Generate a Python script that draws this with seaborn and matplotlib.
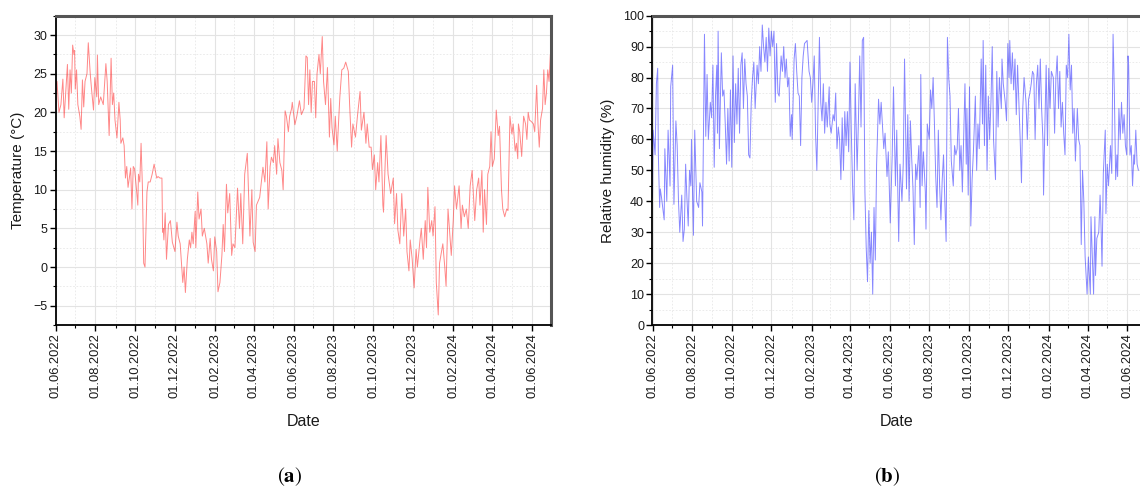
import numpy as np
import pandas as pd
import matplotlib
matplotlib.use("Agg")
import matplotlib.pyplot as plt
import matplotlib.dates as mdates
from matplotlib.ticker import MultipleLocator
import seaborn as sns

# ---------------- data ----------------
start_date = "2022-06-01"

temp_day = [0, 2, 5, 8, 11, 13, 15, 18, 20, 22, 24, 26, 28, 29, 30, 32, 34, 37, 39, 41, 43, 45, 48, 50,
            53, 55, 58, 60, 63, 64, 66, 69, 73, 77, 79, 82, 85, 87, 89, 91, 94, 97, 99, 100, 103, 105,
            107, 109, 111, 115, 117, 119, 121, 124, 126, 127, 129, 131, 133, 135, 137, 140, 142, 145,
            148, 151, 155, 157, 160, 163, 164, 165, 166, 168, 170, 173, 176, 178, 179, 183, 186, 188,
            191, 195, 197, 199, 202, 205, 207, 209, 211, 214, 215, 218, 220, 223, 225, 228, 232, 234,
            237, 239, 242, 244, 247, 249, 252, 255, 257, 259, 262, 264, 267, 270, 272, 275, 279, 282,
            284, 287, 290, 294, 298, 301, 303, 306, 308, 313, 318, 321, 324, 326, 329, 331, 334, 336,
            339, 341, 344, 347, 349, 352, 354, 357, 359, 362, 363, 367, 370, 374, 377, 381, 384, 386,
            388, 390, 392, 394, 397, 399, 401, 404, 406, 409, 411, 414, 417, 420, 422, 424, 427, 429,
            432, 433, 436, 439, 442, 445, 449, 451, 454, 456, 460, 463, 467, 469, 473, 476, 478, 481,
            484, 486, 489, 491, 494, 496, 499, 502, 503, 507, 510, 514, 518, 520, 523, 525, 528, 531,
            534, 537, 539, 542, 544, 547, 550, 553, 555, 559, 561, 564, 567, 569, 571, 574, 577, 579,
            582, 584, 587, 589, 592, 594, 597, 599, 602, 605, 607, 610, 612, 615, 619, 622, 624, 627,
            630, 633, 636, 639, 643, 646, 649, 651, 654, 656, 658, 661, 663, 666, 668, 670, 673, 676,
            679, 681, 684, 686, 689, 692, 694, 697, 700, 702, 705, 707, 709, 710, 712, 715, 718, 721,
            723, 725, 727, 730, 733, 735, 738, 740, 742, 744, 747, 749, 751, 753, 755, 757, 759]
temp_c = [23.5, 24, 20, 21, 24.3, 19.3, 22, 26.2, 20.4, 25.5, 22.5, 28.7, 27.5, 28, 23, 25.5, 21, 19.5,
          17.8, 24.2, 20.7, 24, 25, 29, 25, 23, 20.3, 24.5, 22, 27.4, 21, 22, 21, 26.3, 24, 17, 27, 21,
          22.5, 19, 16.7, 21.3, 19, 16, 16.7, 15.7, 11.5, 13, 10.3, 12.8, 7.5, 13, 12.7, 10, 8, 12, 11,
          16, 10.5, 0.5, 0, 9.7, 11, 11, 12, 13.3, 11.5, 11.7, 11.5, 11.5, 4.5, 5, 3.5, 7, 1, 5.5, 6,
          4.2, 3.2, 2, 5.8, 4, 3, -2, 0, -3.3, 1, 3.5, 2.5, 4.5, 3, 7.2, 2.5, 9.7, 6.2, 7.5, 4, 5, 3,
          0.5, 3.7, 1, -0.5, 3.9, 2, -3.2, -2, 1.5, 5.5, 2, 10.7, 7, 9.5, 1.5, 3, 2.5, 10.2, 5, 9.5, 3,
          12, 14.7, 4, 10, 3.2, 2, 8, 9, 12.9, 11, 16.2, 7.5, 13, 14.2, 13.5, 15.7, 12, 16.6, 13.5,
          12.5, 10, 20.2, 19.5, 17.5, 19.5, 20.5, 21.3, 18.4, 19.5, 21.5, 19.7, 20.5, 27.3, 27.1, 21,
          25.5, 20, 24, 24, 19.3, 25, 27.5, 25, 29.8, 24, 21, 25.8, 16.8, 21.8, 18, 15.8, 19.5, 15, 17,
          22, 25.5, 25.7, 26.5, 25.3, 21, 15.5, 18.5, 16.8, 19.5, 22.7, 17.7, 20, 16, 18.5, 15.5, 15.5,
          12.6, 14.5, 10, 13.5, 11, 17, 8, 7.1, 17, 12, 9.5, 11.5, 5.6, 9.5, 4.8, 3, 9.5, 4, 7.5, 2,
          -0.5, 3.5, 1, -2.7, 2.3, 0, 3.5, 5, 1, 6, 2.5, 10.3, 4.5, 6, 4, 7.8, -2, -6.2, 0.5, 2, 3, 0,
          -2.5, 7.5, 4, 1.5, 6, 10.5, 7.5, 10.5, 5, 8, 6.5, 7.5, 5, 10.5, 12.5, 6, 10, 11.5, 8, 12.5,
          4.5, 10, 5.5, 12, 13, 17.5, 13, 14, 20.3, 17, 18.2, 10, 7.5, 6.5, 7.5, 7.3, 19.5, 17.2, 18.5,
          15, 16, 14, 18.5, 17.5, 14.3, 19.5, 18.5, 16.5, 20, 19, 18.8, 18.5, 17.5, 23.5, 18.5, 15.5,
          19, 20.5, 25.5, 21, 22.5, 25.5, 24, 27.5]

hum_day = [0, 1, 4, 6, 8, 9, 11, 12, 14, 18, 19, 22, 24, 27, 28, 31, 33, 36, 38, 40, 42, 45, 47, 49,
           51, 53, 55, 57, 59, 60, 63, 65, 68, 71, 73, 76, 77, 80, 82, 84, 86, 89, 91, 93, 95, 97, 99,
           100, 101, 103, 106, 108, 110, 112, 114, 116, 118, 120, 122, 124, 126, 128, 130, 132, 134,
           136, 138, 140, 142, 144, 146, 148, 150, 152, 154, 156, 158, 161, 163, 165, 167, 169, 171,
           173, 175, 177, 179, 181, 183, 185, 187, 189, 191, 193, 195, 198, 200, 202, 204, 206, 208,
           210, 212, 214, 215, 218, 220, 222, 224, 226, 228, 230, 232, 234, 238, 241, 243, 245, 247,
           249, 251, 253, 255, 257, 259, 261, 263, 265, 267, 269, 272, 273, 275, 278, 280, 282, 284,
           286, 288, 290, 292, 294, 296, 298, 300, 302, 304, 306, 308, 310, 312, 315, 317, 319, 321,
           323, 325, 327, 329, 331, 333, 335, 337, 339, 341, 343, 345, 348, 350, 352, 356, 358, 361,
           363, 366, 369, 371, 374, 376, 379, 381, 384, 386, 388, 391, 393, 395, 397, 399, 401, 403,
           405, 407, 410, 412, 413, 415, 417, 420, 421, 423, 426, 428, 430, 432, 434, 436, 438, 440,
           442, 444, 446, 448, 450, 452, 454, 456, 458, 460, 463, 465, 467, 469, 471, 473, 475, 477,
           479, 481, 483, 484, 486, 488, 490, 492, 494, 497, 499, 501, 503, 506, 508, 509, 511, 513,
           515, 517, 519, 521, 523, 525, 528, 530, 532, 534, 537, 538, 540, 543, 545, 547, 549, 550,
           552, 554, 556, 558, 560, 562, 564, 566, 568, 570, 572, 575, 577, 579, 581, 583, 585, 587,
           589, 591, 593, 595, 597, 599, 601, 602, 604, 606, 608, 610, 612, 614, 617, 619, 621, 623,
           625, 627, 629, 631, 633, 635, 637, 639, 641, 643, 645, 647, 649, 651, 654, 656, 658, 660,
           662, 664, 666, 669, 671, 674, 675, 677, 679, 681, 682, 684, 687, 689, 690, 692, 694, 697,
           698, 700, 702, 705, 707, 709, 711, 713, 715, 716, 718, 720, 722, 724, 726, 728, 730, 732,
           733, 735, 737, 739, 741, 742, 744, 746, 748]
hum_pct = [41, 63, 55, 78, 83, 55, 38, 44, 41, 34, 57, 40, 63, 45, 77, 84, 39, 66, 58, 40, 30, 42, 27,
           31, 52, 41, 32, 50, 45, 60, 29, 63, 40, 38, 46, 43, 32, 94, 61, 81, 60, 72, 67, 84, 51, 74,
           84, 62, 95, 57, 88, 74, 76, 65, 52, 70, 53, 76, 51, 87, 59, 78, 65, 83, 62, 84, 88, 70, 86,
           78, 74, 55, 54, 72, 80, 85, 70, 84, 78, 90, 82, 97, 90, 85, 93, 82, 96, 87, 95, 90, 95, 72,
           91, 75, 74, 87, 82, 90, 80, 86, 77, 80, 61, 68, 60, 86, 91, 82, 75, 74, 58, 80, 87, 91, 92,
           82, 80, 72, 78, 87, 62, 50, 72, 93, 72, 66, 78, 62, 72, 64, 77, 65, 62, 68, 66, 75, 57, 64,
           60, 47, 67, 50, 69, 58, 69, 56, 85, 63, 45, 34, 78, 50, 66, 87, 64, 92, 93, 43, 25, 14, 37,
           20, 30, 10, 38, 21, 52, 73, 65, 72, 57, 62, 48, 56, 33, 55, 77, 45, 63, 27, 52, 40, 52, 86,
           44, 68, 40, 66, 54, 44, 26, 52, 47, 58, 38, 81, 45, 56, 43, 31, 65, 60, 76, 70, 80, 65, 48,
           38, 63, 45, 34, 47, 55, 40, 27, 93, 80, 74, 53, 45, 58, 55, 57, 70, 50, 58, 43, 60, 78, 52,
           70, 42, 77, 32, 47, 56, 74, 50, 65, 57, 86, 65, 92, 58, 84, 50, 74, 60, 72, 90, 60, 47, 82,
           64, 80, 70, 86, 78, 72, 66, 91, 80, 92, 78, 88, 76, 86, 68, 84, 72, 60, 46, 70, 80, 72, 60,
           73, 75, 78, 82, 81, 60, 78, 84, 70, 86, 70, 60, 42, 64, 84, 58, 83, 70, 82, 80, 62, 80, 87,
           70, 82, 64, 72, 62, 55, 84, 80, 94, 76, 84, 62, 70, 53, 70, 60, 58, 26, 50, 40, 22, 10, 22,
           10, 35, 22, 10, 35, 16, 28, 30, 42, 36, 19, 49, 63, 36, 52, 45, 58, 49, 94, 75, 47, 55, 48,
           70, 60, 72, 62, 68, 58, 55, 87, 84, 55, 58, 45, 55, 52, 63, 52, 50]

temp_xlim = ("2022-06-01", "2024-06-30")
hum_xlim = ("2022-06-01", "2024-06-22")

# ---------------- build frames ----------------
t0 = pd.Timestamp(start_date)
temp_df = pd.DataFrame({"Date": t0 + pd.to_timedelta(temp_day, unit="D"), "value": temp_c})
hum_df = pd.DataFrame({"Date": t0 + pd.to_timedelta(hum_day, unit="D"), "value": hum_pct})

sns.set_theme(style="white")
plt.rcParams["font.family"] = ["Liberation Sans", "DejaVu Sans"]
plt.rcParams["mathtext.fontset"] = "stix"

W, H = 1140, 491
fig = plt.figure(figsize=(W / 100, H / 100), dpi=100)

def px_axes(x0, x1, y0, y1):
    return fig.add_axes([x0 / W, 1 - y1 / H, (x1 - x0) / W, (y1 - y0) / H])

ax1 = px_axes(55.7, 551, 15.7, 325)
ax2 = px_axes(652.5, 1141, 15.7, 325)

sns.lineplot(data=temp_df, x="Date", y="value", ax=ax1, color=(1.0, 0.15, 0.15),
             lw=0.7, alpha=0.55, estimator=None, errorbar=None)
sns.lineplot(data=hum_df, x="Date", y="value", ax=ax2, color=(0.15, 0.15, 1.0),
             lw=0.7, alpha=0.55, estimator=None, errorbar=None)

def style(ax, xlim, ylim, ymaj, ymin, ylabel, ylab_x, show_right=True):
    ax.set_xlim(pd.Timestamp(xlim[0]), pd.Timestamp(xlim[1]))
    ax.set_ylim(*ylim)
    ax.xaxis.set_major_locator(mdates.MonthLocator(bymonth=[2, 4, 6, 8, 10, 12]))
    ax.xaxis.set_minor_locator(mdates.MonthLocator())
    ax.xaxis.set_major_formatter(mdates.DateFormatter("%d.%m.%Y"))
    ax.yaxis.set_major_locator(MultipleLocator(ymaj))
    ax.yaxis.set_minor_locator(MultipleLocator(ymin))
    ax.grid(True, which="major", color="#e3e3e3", lw=0.8, ls="-")
    ax.grid(True, which="minor", color="#e8e8e8", lw=0.6, ls=(0, (2, 2)))
    ax.set_axisbelow(True)
    ax.tick_params(axis="both", which="major", direction="out", length=4, width=1,
                   color="black", labelsize=9, pad=2, bottom=True, left=True)
    ax.tick_params(axis="both", which="minor", direction="out", length=2.5, width=0.8,
                   color="black", bottom=True, left=True)
    ax.tick_params(axis="x", which="major", labelsize=9.3, labelrotation=90, pad=2)
    for lab in ax.get_xticklabels():
        lab.set_color("#1a1a1a")
    for lab in ax.get_yticklabels():
        lab.set_color("#1a1a1a")
    for s in ["left", "bottom"]:
        ax.spines[s].set_color("black")
        ax.spines[s].set_linewidth(1.3)
    ax.spines["top"].set_color("#555555")
    ax.spines["top"].set_linewidth(2.2)
    ax.spines["right"].set_color("#555555")
    ax.spines["right"].set_linewidth(2.2)
    ax.spines["right"].set_visible(show_right)
    ax.set_ylabel(ylabel, fontsize=11, color="#1a1a1a")
    ax.yaxis.label.set_verticalalignment("center")
    ax.yaxis.set_label_coords(ylab_x, 0.5)
    ax.set_xlabel("Date", fontsize=11.5, color="#1a1a1a")
    ax.xaxis.label.set_verticalalignment("center")
    ax.xaxis.set_label_coords(0.5, (325 - 422) / 309.3)

style(ax1, temp_xlim, (-7.5, 32.5), 5, 2.5, "Temperature (°C)", (18 - 55.7) / 495.3)
style(ax2, hum_xlim, (0, 100), 10, 5, "Relative humidity (%)", (608 - 652.5) / 488.5, show_right=False)

fig.text(290 / W, 1 - 477 / H, r"$(\mathbf{a})$", ha="center", va="center", fontsize=15, color="black")
fig.text(887 / W, 1 - 477 / H, r"$(\mathbf{b})$", ha="center", va="center", fontsize=15, color="black")

fig.savefig("out.png", dpi=100)
